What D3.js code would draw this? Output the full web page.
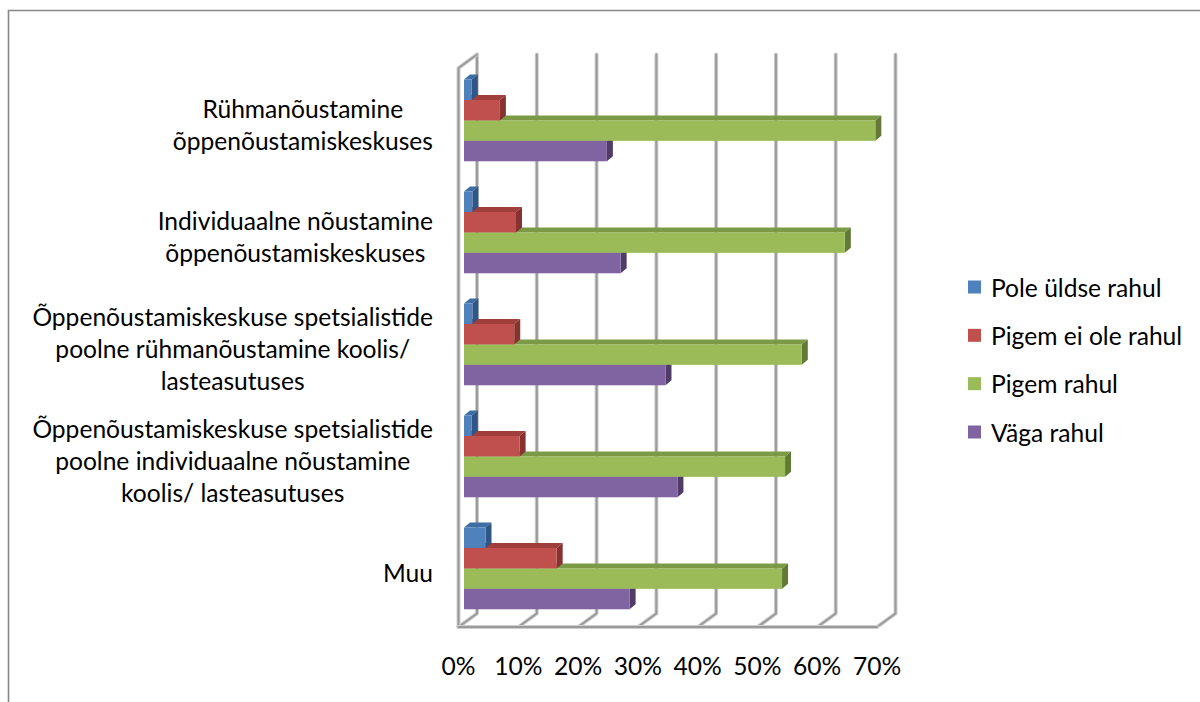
<!DOCTYPE html>
<html>
<head>
<meta charset="utf-8">
<script src="https://cdn.jsdelivr.net/npm/d3@7/dist/d3.min.js"></script>
<style>
  html, body { margin: 0; padding: 0; background: #fff; }
  svg { display: block; }
  text { font-family: Lato, "Open Sans", sans-serif; fill: #000; }
</style>
</head>
<body>
<svg id="chart" width="1200" height="702"></svg>
<script>
// Categories (top to bottom), each split into its display lines
const categories = [
  "Rühmanõustamine õppenõustamiskeskuses",
  "Individuaalne nõustamine õppenõustamiskeskuses",
  "Õppenõustamiskeskuse spetsialistide poolne rühmanõustamine koolis/ lasteasutuses",
  "Õppenõustamiskeskuse spetsialistide poolne individuaalne nõustamine koolis/ lasteasutuses",
  "Muu"
];
const categoryLines = [
  ["Rühmanõustamine", "õppenõustamiskeskuses"],
  ["Individuaalne nõustamine", "õppenõustamiskeskuses"],
  ["Õppenõustamiskeskuse spetsialistide", "poolne rühmanõustamine koolis/", "lasteasutuses"],
  ["Õppenõustamiskeskuse spetsialistide", "poolne individuaalne nõustamine", "koolis/ lasteasutuses"],
  ["Muu"]
];

// Series (legend order) and their shares, %
const seriesNames = ["Pole üldse rahul", "Pigem ei ole rahul", "Pigem rahul", "Väga rahul"];
const poleYldseRahul = [1.3, 1.4, 1.4, 1.3, 3.6];
const pigemEiOleRahul = [6.0, 8.7, 8.4, 9.3, 15.5];
const pigemRahul = [68.8, 63.7, 56.5, 53.7, 53.2];
const vagaRahul = [23.9, 26.2, 33.7, 35.7, 27.7];
const seriesValues = [poleYldseRahul, pigemEiOleRahul, pigemRahul, vagaRahul];

const xTicks = [0, 10, 20, 30, 40, 50, 60, 70];
const tickLabels = ["0%", "10%", "20%", "30%", "40%", "50%", "60%", "70%"];

// Face colours: front, top, side
const palette = [
  { front: "#4F81BD", top: "#3E6DA6", side: "#2F5684" },
  { front: "#C0504D", top: "#A03E3B", side: "#863230" },
  { front: "#9BBB59", top: "#7C9A46", side: "#627A35" },
  { front: "#8064A2", top: "#6A5189", side: "#4F3C67" }
];

const fontSize = 24.6;
const svg = d3.select("#chart");

// Outer chart border (open on the right and bottom)
svg.append("path")
  .attr("d", "M8.5,702 L8.5,10.5 L1200,10.5")
  .attr("fill", "none")
  .attr("stroke", "#878787")
  .attr("stroke-width", 1.6);

// 3D frame: front floor edge and the back wall, offset by the depth vector
const depth = { dx: 18.5, dy: -13.5 };
const floorY = 627;
const wallTop = 68;
const xFront = d3.scaleLinear().domain([0, 70]).range([458.5, 877]);

const frame = svg.append("g").attr("class", "frame");
const gridStyle = sel => sel.attr("fill", "none")
  .attr("stroke-linecap", "round").attr("stroke-linejoin", "round");

function gridPath(d, g) {
  g.append("path").attr("d", d).call(gridStyle)
    .attr("stroke", "#cfcfcf").attr("stroke-width", 4);
  g.append("path").attr("d", d).call(gridStyle)
    .attr("stroke", "#9a9a9a").attr("stroke-width", 2);
}

// back-wall verticals plus the floor diagonals for each tick
xTicks.forEach(t => {
  const xf = xFront(t);
  const xb = xf + depth.dx;
  gridPath(`M${xf},${floorY} L${xb},${floorY + depth.dy} L${xb},${wallTop + depth.dy}`, frame);
});
// left wall outline
gridPath(`M${xFront(0)},${floorY} L${xFront(0)},${wallTop} L${xFront(0) + depth.dx},${wallTop + depth.dy}`, frame);
// front floor edge
gridPath(`M${xFront(0)},${floorY} L${xFront(70)},${floorY}`, frame);

// Bars sit a little inside the depth of the box
const barInset = 5.5;
const x = d3.scaleLinear().domain([0, 70]).range([xFront(0) + barInset, xFront(70) + barInset]);
const y = d3.scaleBand().domain(categories).range([64.4, 624.4])
  .paddingInner(0.27).paddingOuter(0.135);
const ySeries = d3.scaleBand().domain(seriesNames).range([0, y.bandwidth()]);
const bd = { dx: 6, dy: -5 };

const bars = svg.append("g").attr("class", "bars");
categories.forEach((cat, ci) => {
  // draw lower series first so each bar covers the top face of the one below
  for (let si = seriesNames.length - 1; si >= 0; si--) {
    const v = seriesValues[si][ci];
    const x0 = x(0), x1 = x(v);
    const y0 = y(cat) + ySeries(seriesNames[si]);
    const h = ySeries.bandwidth();
    const c = palette[si];
    const g = bars.append("g");
    // top face
    g.append("path")
      .attr("d", `M${x0},${y0} L${x0 + bd.dx},${y0 + bd.dy} L${x1 + bd.dx},${y0 + bd.dy} L${x1},${y0} Z`)
      .attr("fill", c.top);
    // side face
    g.append("path")
      .attr("d", `M${x1},${y0} L${x1 + bd.dx},${y0 + bd.dy} L${x1 + bd.dx},${y0 + h + bd.dy} L${x1},${y0 + h} Z`)
      .attr("fill", c.side);
    // front face
    g.append("rect")
      .attr("x", x0).attr("y", y0)
      .attr("width", x1 - x0).attr("height", h)
      .attr("fill", c.front);
  }
});

// Category labels: lines centred within a block ending near the wall
const labelRight = 433;
const lineH = 32;
const labels = svg.append("g").attr("class", "cat-labels").attr("font-size", fontSize);
categoryLines.forEach((lines, ci) => {
  const cy = y(categories[ci]) + y.bandwidth() / 2 + 4;
  const g = labels.append("g");
  const texts = lines.map((ln, li) => g.append("text")
    .attr("y", cy + (li - (lines.length - 1) / 2) * lineH)
    .attr("dominant-baseline", "central")
    .attr("text-anchor", "middle")
    .text(ln));
  const maxW = d3.max(texts, t => t.node().getComputedTextLength());
  texts.forEach(t => t.attr("x", labelRight - maxW / 2));
});

// Value axis labels under the front floor edge
svg.append("g").attr("class", "x-labels").attr("font-size", fontSize)
  .selectAll("text").data(xTicks).join("text")
  .attr("x", d => xFront(d))
  .attr("y", 665)
  .attr("text-anchor", "middle")
  .attr("dominant-baseline", "central")
  .text((d, i) => tickLabels[i]);

// Legend
const legend = svg.append("g").attr("class", "legend").attr("font-size", fontSize);
const legendY = d3.scalePoint().domain(seriesNames).range([287, 432]);
seriesNames.forEach((name, i) => {
  const ly = legendY(name);
  legend.append("rect")
    .attr("x", 968).attr("y", ly - 6.5)
    .attr("width", 13).attr("height", 13)
    .attr("fill", palette[i].front);
  legend.append("text")
    .attr("x", 991).attr("y", ly)
    .attr("dominant-baseline", "central")
    .text(name);
});
</script>
</body>
</html>
